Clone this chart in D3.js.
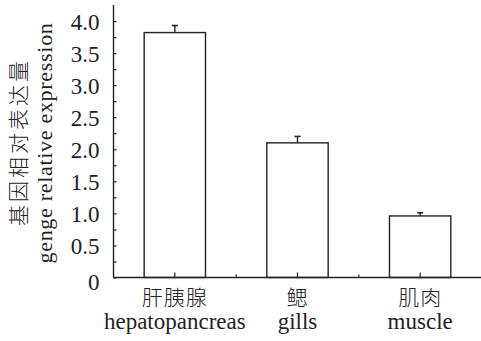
<!DOCTYPE html>
<html>
<head>
<meta charset="utf-8">
<script src="https://cdn.jsdelivr.net/npm/d3@7"></script>
<style>
  html, body { margin: 0; padding: 0; background: #fff; }
  svg { display: block; }
</style>
</head>
<body>
<svg id="chart" width="481" height="341"></svg>
<script>
const categoriesCN = ["肝胰腺", "鳃", "肌肉"];
const categoriesEN = ["hepatopancreas", "gills", "muscle"];
const values = [3.82, 2.10, 0.96];
const errors = [0.11, 0.10, 0.05];
const yTickValues = [0, 0.5, 1.0, 1.5, 2.0, 2.5, 3.0, 3.5, 4.0];
const yTickLabels = ["0", "0.5", "1.0", "1.5", "2.0", "2.5", "3.0", "3.5", "4.0"];
const yMinorTicks = d3.range(0, 4.01, 0.25);
const yTitleCN = "基因相对表达量";
const yTitleEN = "genge relative expression";

const serif = "'Liberation Serif', 'Times New Roman', 'DejaVu Serif', serif";
const cjk = "'Noto Sans CJK SC', 'Noto Sans CJK TC', sans-serif";
const ink = "#222";

const svg = d3.select("#chart");
const mLeft = 113.5, mRight = 481.5, mBottom = 277.5, mTop = 5;

const x = d3.scaleBand().domain(categoriesEN).range([mLeft, mRight])
  .paddingInner(0.5).paddingOuter(0.25);
const y = d3.scaleLinear().domain([0, 4.25]).range([mBottom, mTop]);

// bars
const g = svg.append("g");
g.selectAll("rect.bar").data(values).join("rect")
  .attr("class", "bar")
  .attr("x", (d, i) => x(categoriesEN[i]))
  .attr("y", d => y(d))
  .attr("width", x.bandwidth())
  .attr("height", d => y(0) - y(d))
  .attr("fill", "#fff").attr("stroke", ink).attr("stroke-width", 1.4);

// error bars
g.selectAll("line.err").data(values).join("line")
  .attr("class", "err")
  .attr("x1", (d, i) => x(categoriesEN[i]) + x.bandwidth() / 2)
  .attr("x2", (d, i) => x(categoriesEN[i]) + x.bandwidth() / 2)
  .attr("y1", d => y(d))
  .attr("y2", (d, i) => y(d + errors[i]))
  .attr("stroke", ink).attr("stroke-width", 1.4);
g.selectAll("line.cap").data(values).join("line")
  .attr("class", "cap")
  .attr("x1", (d, i) => x(categoriesEN[i]) + x.bandwidth() / 2 - 3)
  .attr("x2", (d, i) => x(categoriesEN[i]) + x.bandwidth() / 2 + 3)
  .attr("y1", (d, i) => y(d + errors[i]))
  .attr("y2", (d, i) => y(d + errors[i]))
  .attr("stroke", ink).attr("stroke-width", 1.6);

// y axis
const yAxis = d3.axisRight(y).tickValues(yMinorTicks).tickSize(3).tickFormat("");
const ya = svg.append("g").attr("transform", `translate(${mLeft},0)`).call(yAxis);
ya.select(".domain").attr("d", `M0,${mTop}V${mBottom}`).attr("stroke", ink).attr("stroke-width", 1.4);
ya.selectAll(".tick line").attr("stroke", ink).attr("stroke-width", 1.2);

// y tick labels
svg.append("g").selectAll("text").data(yTickValues).join("text")
  .attr("x", 99.5)
  .attr("y", d => y(d) + (d === 0 ? 4 : 1))
  .attr("dy", "0.35em")
  .attr("text-anchor", "end")
  .attr("font-family", serif).attr("font-size", 23).attr("fill", ink)
  .text((d, i) => yTickLabels[i]);

// x axis
const xa = svg.append("g").attr("transform", `translate(0,${mBottom})`)
  .call(d3.axisTop(x).tickSize(5).tickFormat(""));
xa.select(".domain").attr("d", `M${mLeft},0H481`).attr("stroke", ink).attr("stroke-width", 1.4);
xa.selectAll(".tick line").attr("stroke", ink).attr("stroke-width", 1.2);
// boundary ticks between categories
xa.selectAll("line.bt").data(categoriesEN.slice(1)).join("line")
  .attr("class", "bt")
  .attr("x1", c => x(c) - (x.step() - x.bandwidth()) / 2)
  .attr("x2", c => x(c) - (x.step() - x.bandwidth()) / 2)
  .attr("y1", 0).attr("y2", -3)
  .attr("stroke", ink).attr("stroke-width", 1.2);

// x labels
const xl = svg.append("g");
xl.selectAll("text.cn").data(categoriesCN).join("text")
  .attr("class", "cn")
  .attr("x", (d, i) => x(categoriesEN[i]) + x.bandwidth() / 2)
  .attr("y", 305)
  .attr("text-anchor", "middle")
  .attr("font-family", cjk).attr("font-weight", 300).attr("font-size", 21).attr("fill", ink)
  .attr("letter-spacing", 1)
  .text(d => d);
xl.selectAll("text.en").data(categoriesEN).join("text")
  .attr("class", "en")
  .attr("x", d => x(d) + x.bandwidth() / 2)
  .attr("y", 329)
  .attr("text-anchor", "middle")
  .attr("font-family", serif).attr("font-size", 23).attr("fill", ink)
  .text(d => d);

// y title
svg.append("text")
  .attr("transform", "translate(25.5,142) rotate(-90)")
  .attr("text-anchor", "middle")
  .attr("font-family", cjk).attr("font-weight", 300).attr("font-size", 21).attr("fill", ink)
  .attr("letter-spacing", 3)
  .text(yTitleCN);
svg.append("text")
  .attr("transform", "translate(52,143) rotate(-90)")
  .attr("text-anchor", "middle")
  .attr("font-family", serif).attr("font-size", 22).attr("fill", ink)
  .attr("letter-spacing", 0.7)
  .text(yTitleEN);
</script>
</body>
</html>
